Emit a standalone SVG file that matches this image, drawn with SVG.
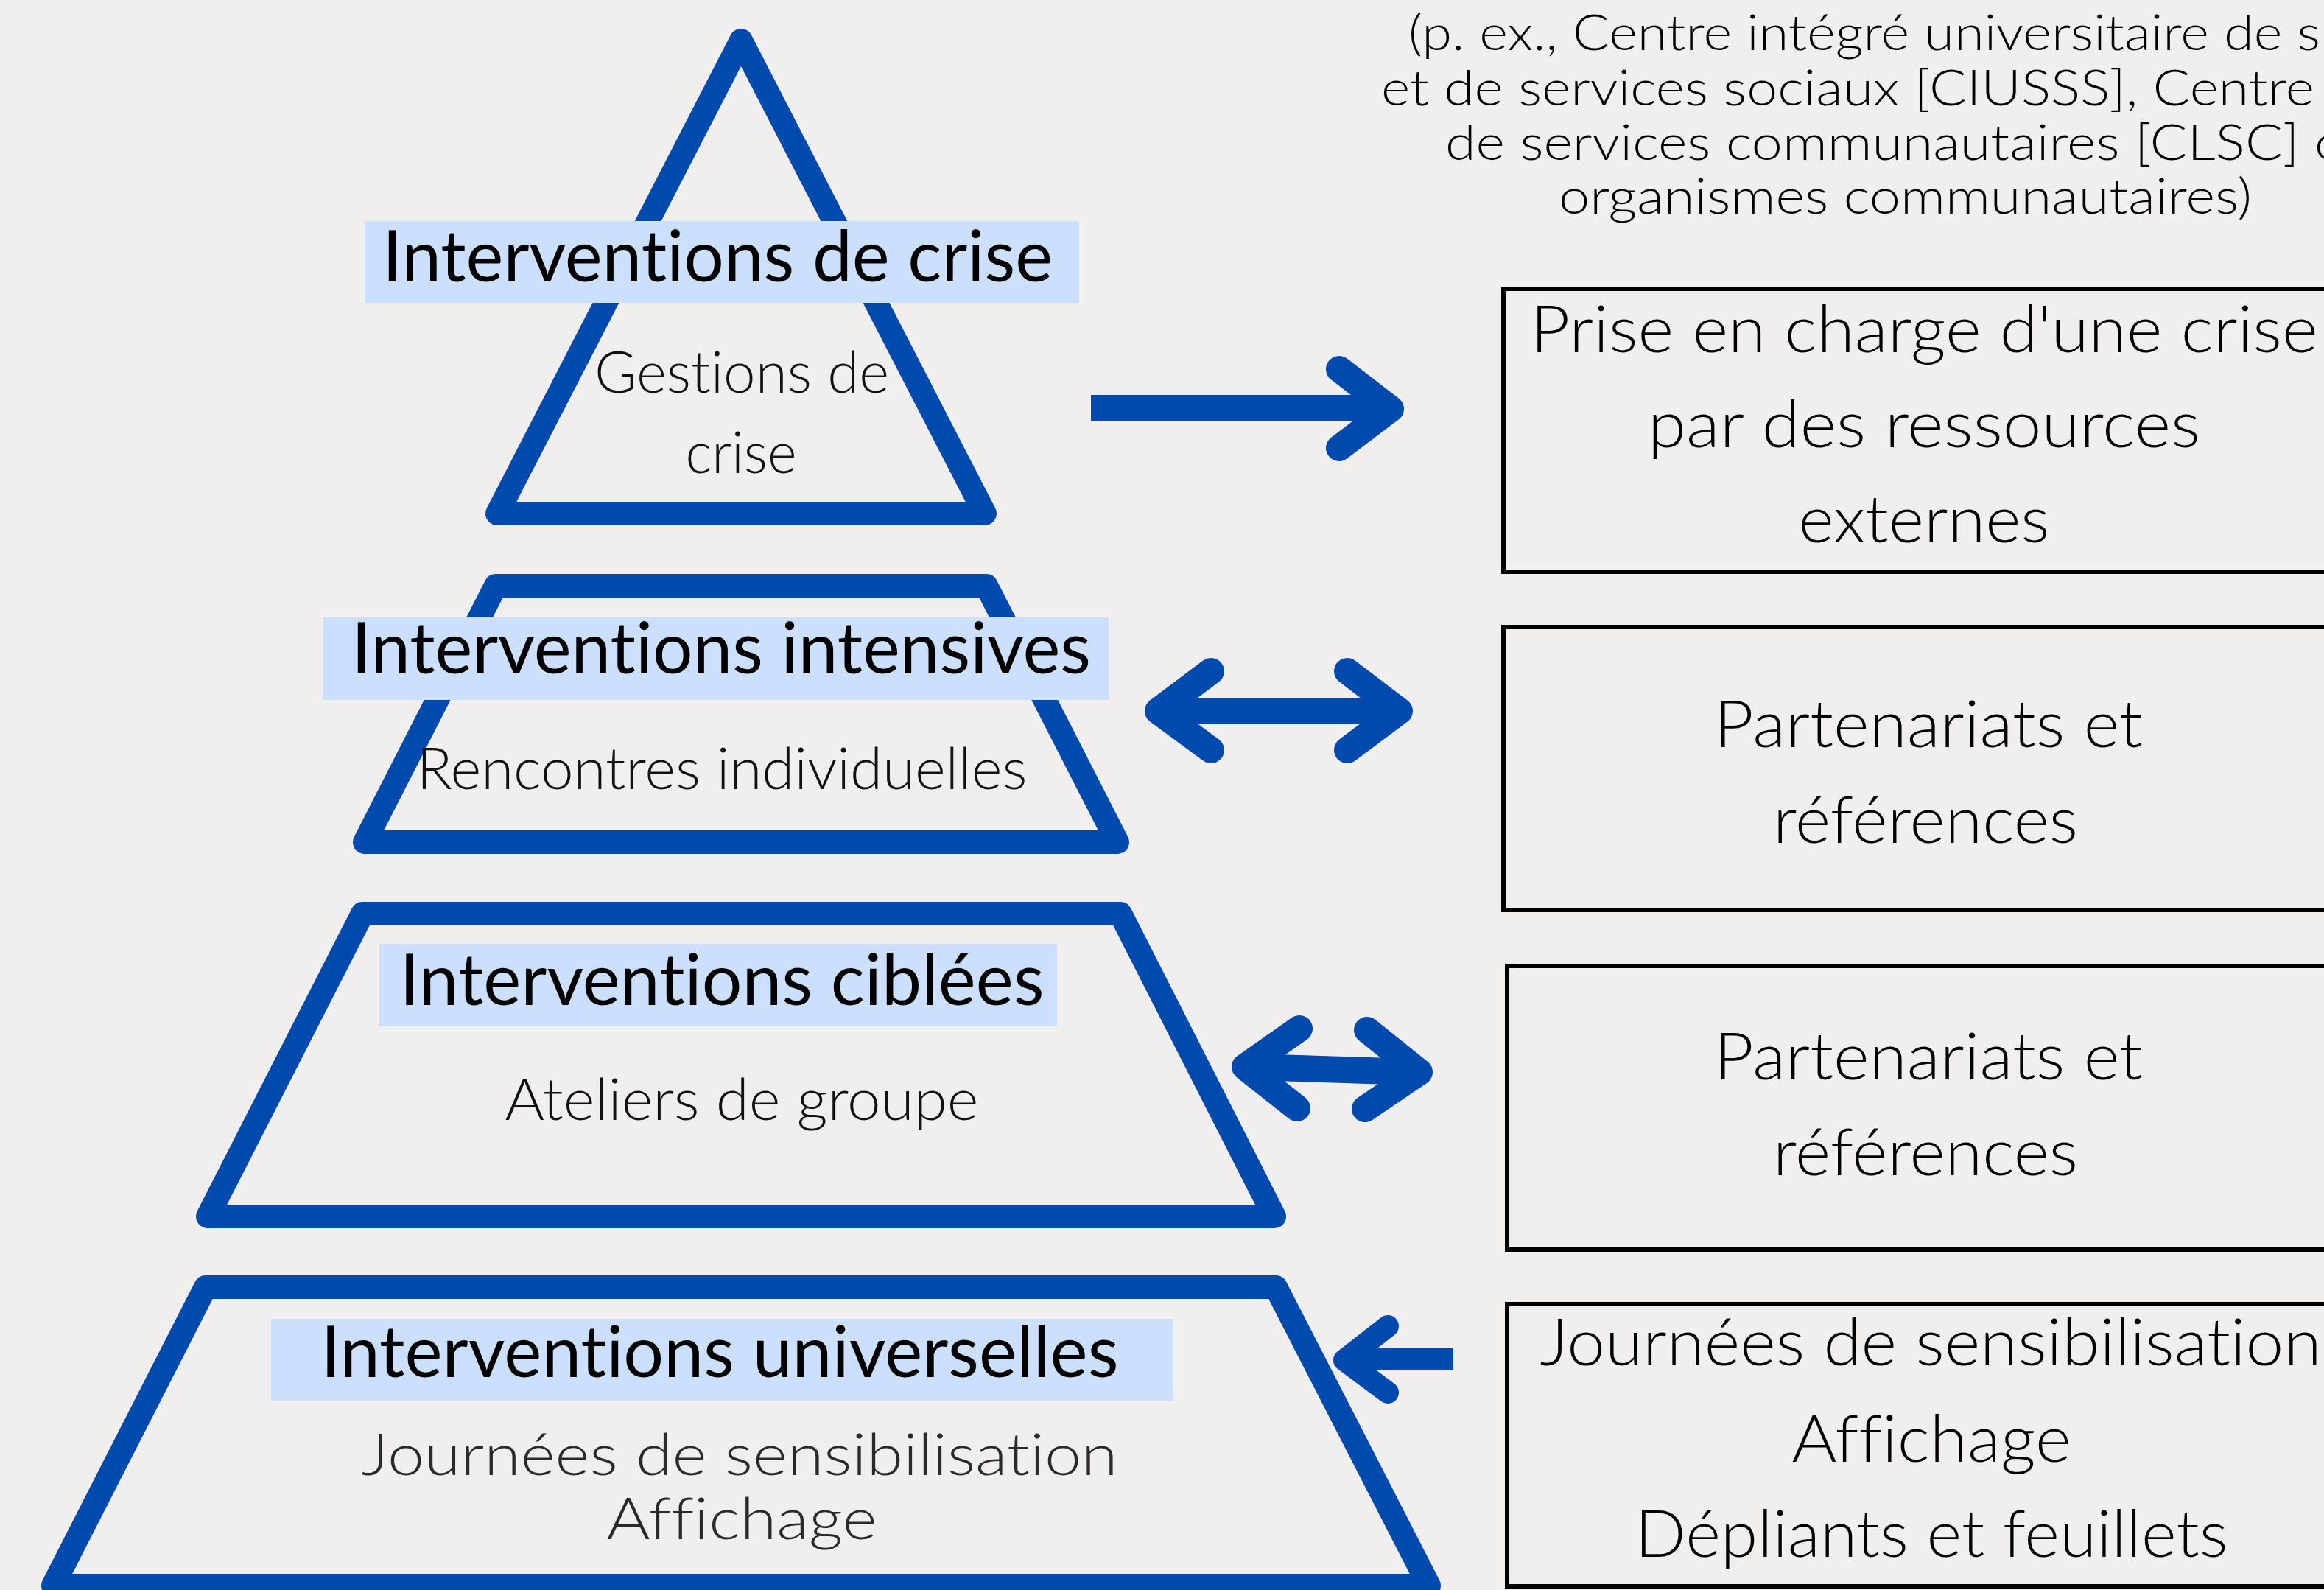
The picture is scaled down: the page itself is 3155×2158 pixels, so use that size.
<svg xmlns="http://www.w3.org/2000/svg" width="3155" height="2158" viewBox="0 0 3155 2158">
<style>
.bg{fill:#f0efed}
.tier{fill:none;stroke:#004aad;stroke-width:32;stroke-linejoin:round}
.lbl{fill:#cce0fd}
text{font-variant-ligatures:none;font-feature-settings:"liga" 0,"clig" 0}
.h{font-family:Lato,"Noto Sans",sans-serif;font-size:96px;font-weight:400;fill:#000;text-anchor:middle}
.b{font-family:Lato,"Noto Sans",sans-serif;font-size:78px;font-weight:300;fill:#111;text-anchor:middle}
.r{font-family:Lato,"Noto Sans",sans-serif;font-size:88px;font-weight:300;fill:#000;text-anchor:middle}
.p{font-family:Lato,"Noto Sans",sans-serif;font-size:67px;font-weight:300;fill:#000}
.box{fill:none;stroke:#000;stroke-width:6}
.shaft{stroke:#004aad;stroke-width:36;stroke-linecap:butt;fill:none}
.head{stroke:#004aad;stroke-width:36;stroke-linecap:round;stroke-linejoin:round;fill:none}
</style>
<rect class="bg" x="0" y="0" width="3155" height="2158"/>

<g id="note">
<text class="p" x="1912" y="68" textLength="1238" lengthAdjust="spacingAndGlyphs">(p. ex., Centre intégré universitaire de s</text>
<text class="p" x="1875" y="143" textLength="1267" lengthAdjust="spacingAndGlyphs">et de services sociaux [CIUSSS], Centre</text>
<text class="p" x="1962" y="217" textLength="1222" lengthAdjust="spacingAndGlyphs">de services communautaires [CLSC] o</text>
<text class="p" x="2116" y="290" textLength="941" lengthAdjust="spacingAndGlyphs">organismes communautaires)</text>
</g>

<g id="tier-crise">
<polygon class="tier" points="1006,55 1337,697 675,697"/>
<rect class="lbl" x="495" y="300" width="970" height="111"/>
<text class="h" x="974" y="382" textLength="910" lengthAdjust="spacingAndGlyphs">Interventions de crise</text>
<text class="b" x="1007" y="533" textLength="400" lengthAdjust="spacingAndGlyphs">Gestions de</text>
<text class="b" x="1006" y="642" textLength="151" lengthAdjust="spacingAndGlyphs">crise</text>
</g>

<g id="tier-intensives">
<polygon class="tier" points="673,795 1339,795 1517,1143 495,1143"/>
<rect class="lbl" x="438" y="838" width="1067" height="112"/>
<text class="h" x="979" y="914" textLength="1004" lengthAdjust="spacingAndGlyphs">Interventions intensives</text>
<text class="b" x="980" y="1071" textLength="829" lengthAdjust="spacingAndGlyphs">Rencontres individuelles</text>
</g>

<g id="tier-ciblees">
<polygon class="tier" points="492,1240 1521,1240 1730,1651 282,1651"/>
<rect class="lbl" x="515" y="1281" width="920" height="112"/>
<text class="h" x="980" y="1364" textLength="875" lengthAdjust="spacingAndGlyphs">Interventions ciblées</text>
<text class="b" x="1007" y="1520" textLength="643" lengthAdjust="spacingAndGlyphs">Ateliers de groupe</text>
</g>

<g id="tier-universelles">
<polygon class="tier" points="279,1747 1732,1747 1940,2152 72,2152"/>
<rect class="lbl" x="368" y="1790" width="1225" height="111"/>
<text class="h" x="977" y="1869" textLength="1083" lengthAdjust="spacingAndGlyphs">Interventions universelles</text>
<text class="b" x="1004" y="2002" textLength="1027" lengthAdjust="spacingAndGlyphs" style="fill:#2a2a2a">Journées de sensibilisation</text>
<text class="b" x="1007" y="2089" textLength="367" lengthAdjust="spacingAndGlyphs" style="fill:#2a2a2a">Affichage</text>
</g>

<g id="box-crise">
<rect class="box" x="2041" y="392" width="1200" height="384"/>
<text class="r" x="2612" y="478" textLength="1069" lengthAdjust="spacingAndGlyphs">Prise en charge d'une crise</text>
<text class="r" x="2612" y="607" textLength="750" lengthAdjust="spacingAndGlyphs">par des ressources</text>
<text class="r" x="2612" y="736" textLength="341" lengthAdjust="spacingAndGlyphs">externes</text>
</g>

<g id="box-partenariats-1">
<rect class="box" x="2041" y="851" width="1200" height="384"/>
<text class="r" x="2618" y="1014" textLength="582" lengthAdjust="spacingAndGlyphs">Partenariats et</text>
<text class="r" x="2614" y="1144" textLength="414" lengthAdjust="spacingAndGlyphs">références</text>
</g>

<g id="box-partenariats-2">
<rect class="box" x="2046" y="1311" width="1200" height="385"/>
<text class="r" x="2618" y="1465" textLength="582" lengthAdjust="spacingAndGlyphs">Partenariats et</text>
<text class="r" x="2614" y="1595" textLength="414" lengthAdjust="spacingAndGlyphs">références</text>
</g>

<g id="box-sensibilisation">
<rect class="box" x="2046" y="1770" width="1200" height="383"/>
<text class="r" x="2621" y="1853" textLength="1061" lengthAdjust="spacingAndGlyphs">Journées de sensibilisation</text>
<text class="r" x="2622" y="1984" textLength="379" lengthAdjust="spacingAndGlyphs">Affichage</text>
<text class="r" x="2622" y="2113" textLength="805" lengthAdjust="spacingAndGlyphs">Dépliants et feuillets</text>
</g>

<g id="connectors">
<line class="shaft" x1="1481" y1="554" x2="1878" y2="554"/>
<polyline class="head" points="1818,501 1888,555 1818,608"/>

<line class="shaft" x1="1580" y1="965" x2="1892" y2="965"/>
<polyline class="head" points="1644,911 1572,965 1644,1018"/>
<polyline class="head" points="1829,911 1900,965 1829,1018"/>

<line class="shaft" x1="1698" y1="1448" x2="1919" y2="1455"/>
<polyline class="head" points="1764,1396 1690,1448 1761,1504"/>
<polyline class="head" points="1856,1398 1927,1455 1853,1505"/>

<line class="shaft" x1="1833" y1="1845" x2="1973" y2="1845" style="stroke-width:30"/>
<polyline class="head" points="1884,1800 1825,1846 1884,1890" style="stroke-width:30"/>
</g>
</svg>
